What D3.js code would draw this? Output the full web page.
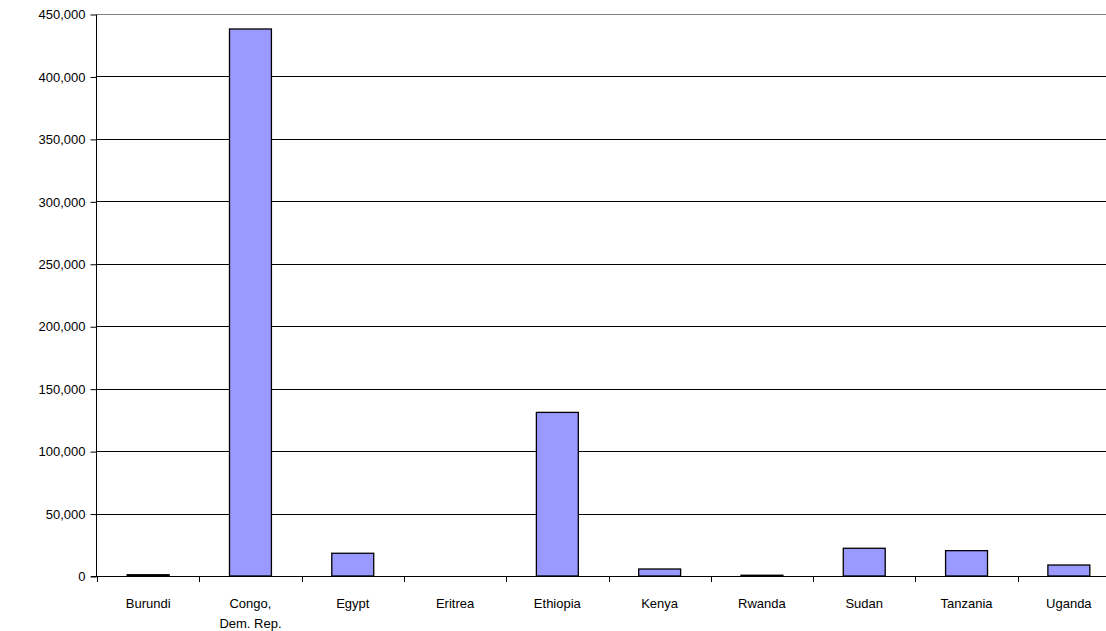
<!DOCTYPE html>
<html>
<head>
<meta charset="utf-8">
<script src="https://cdn.jsdelivr.net/npm/d3@7/dist/d3.min.js"></script>
<style>
  html, body { margin: 0; padding: 0; background: #fff; overflow: hidden; }
  svg { display: block; font-family: Arial, "Liberation Sans", sans-serif; }
</style>
</head>
<body>
<svg id="chart" width="1106" height="631"></svg>
<script>
// Countries along the x axis (multi-line labels split on "\n")
const categories = ["Burundi", "Congo,\nDem. Rep.", "Egypt", "Eritrea", "Ethiopia",
                    "Kenya", "Rwanda", "Sudan", "Tanzania", "Uganda"];
// One value per country
const values = [1000, 438000, 18200, 0, 131000, 5600, 600, 22200, 20300, 8800];
// Y-axis tick values
const yTicks = [0, 50000, 100000, 150000, 200000, 250000, 300000, 350000, 400000, 450000];

const svg = d3.select("#chart");
const plot = { left: 97, right: 1120, top: 14, bottom: 576 };

const x = d3.scaleBand().domain(categories).range([plot.left, plot.right]).padding(0);
const y = d3.scaleLinear().domain([0, 450000]).range([plot.bottom, plot.top]);
const fmt = d3.format(",");

// Horizontal gridlines (top one is the grey plot-area border)
svg.append("g").selectAll("line").data(yTicks.filter(d => d > 0)).join("line")
  .attr("x1", plot.left).attr("x2", plot.right)
  .attr("y1", d => Math.round(y(d)) + 0.5).attr("y2", d => Math.round(y(d)) + 0.5)
  .attr("stroke", d => d === 450000 ? "#808080" : "#000")
  .attr("stroke-width", 1);

// Bars
const barW = x.bandwidth() * 0.41;
svg.append("g").selectAll("rect").data(categories).join("rect")
  .attr("x", (d) => x(d) + (x.bandwidth() - barW) / 2)
  .attr("y", (d, i) => y(values[i]))
  .attr("width", barW)
  .attr("height", (d, i) => y(0) - y(values[i]))
  .attr("fill", "#9999ff")
  .attr("stroke", "#000")
  .attr("stroke-width", 1.3)
  .style("display", (d, i) => values[i] > 0 ? null : "none");

// Y axis
const yAxis = svg.append("g")
  .attr("transform", `translate(${plot.left - 0.5},0.5)`)
  .call(d3.axisLeft(y).tickValues(yTicks).tickFormat(fmt).tickSize(6).tickPadding(5));
yAxis.select(".domain").attr("stroke", "#000").attr("d", `M0,${plot.top}V${plot.bottom}`);
yAxis.selectAll(".tick line").attr("stroke", "#000");
yAxis.selectAll(".tick text")
  .attr("fill", "#000").style("font-size", "13px")
  .style("font-family", "Arial, 'Liberation Sans', sans-serif");

// X axis line
svg.append("line")
  .attr("x1", plot.left - 6).attr("x2", plot.right)
  .attr("y1", y(0) + 0.5).attr("y2", y(0) + 0.5)
  .attr("stroke", "#000");

// X tick marks at category boundaries
const edges = categories.map(c => x(c)).concat([x(categories[categories.length - 1]) + x.bandwidth()]);
svg.append("g").selectAll("line").data(edges).join("line")
  .attr("x1", d => Math.round(d) + 0.5).attr("x2", d => Math.round(d) + 0.5)
  .attr("y1", y(0)).attr("y2", y(0) + 6)
  .attr("stroke", "#000");

// X labels
const labels = svg.append("g").selectAll("text").data(categories).join("text")
  .attr("x", d => x(d) + x.bandwidth() / 2)
  .attr("y", 608)
  .attr("text-anchor", "middle")
  .attr("fill", "#000")
  .style("font-size", "13px");
labels.each(function (d) {
  const t = d3.select(this);
  d.split("\n").forEach((line, i) => {
    t.append("tspan")
      .attr("x", x(d) + x.bandwidth() / 2)
      .attr("dy", i === 0 ? 0 : 20)
      .text(line);
  });
});
</script>
</body>
</html>
